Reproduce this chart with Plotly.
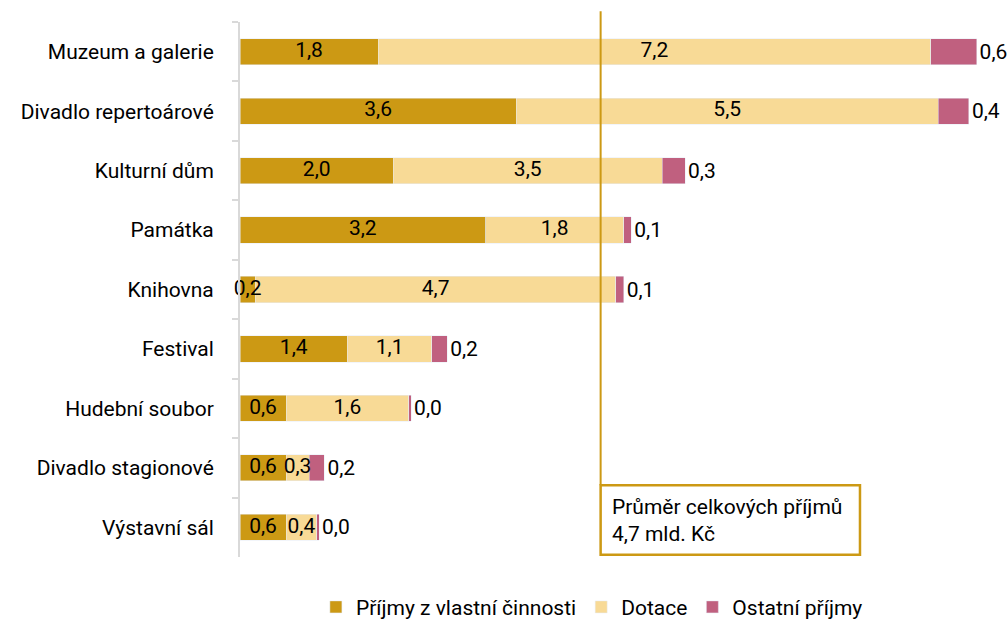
import plotly.graph_objects as go

# Průměrné příjmy kulturních organizací podle typu (mld. Kč)
kategorie = ['Muzeum a galerie', 'Divadlo repertoárové', 'Kulturní dům', 'Památka',
             'Knihovna', 'Festival', 'Hudební soubor', 'Divadlo stagionové', 'Výstavní sál']
vlastni = [1.8, 3.6, 2.0, 3.2, 0.2, 1.4, 0.6, 0.6, 0.6]
dotace = [7.2, 5.5, 3.5, 1.8, 4.7, 1.1, 1.6, 0.3, 0.4]
ostatni = [0.6, 0.4, 0.3, 0.1, 0.1, 0.2, 0.03, 0.2, 0.03]
prumer = 4.7

FONT = "Roboto, sans-serif"
SIZE = 21

fig = go.Figure()
fig.add_trace(go.Bar(name='Příjmy z vlastní činnosti', y=kategorie, x=vlastni, orientation='h',
                     marker_color='#CC9914'))
fig.add_trace(go.Bar(name='Dotace', y=kategorie, x=dotace, orientation='h',
                     marker_color='#F8DA96'))
fig.add_trace(go.Bar(name='Ostatní příjmy', y=kategorie, x=ostatni, orientation='h',
                     marker_color='#C0607F', texttemplate='%{x:.1f}', textposition='outside',
                     textangle=0, constraintext='none', cliponaxis=False,
                     textfont=dict(color='black', size=SIZE, family=FONT)))

# popisky uvnitř segmentů nahoře nad všemi pruhy
stred_vlastni = [v / 2 for v in vlastni]
stred_dotace = [v + d / 2 for v, d in zip(vlastni, dotace)]
fig.add_trace(go.Scatter(x=stred_vlastni, y=kategorie, mode='text', showlegend=False,
                         text=[f'{v:.1f}'.replace('.', ',') for v in vlastni], cliponaxis=False,
                         textfont=dict(color='black', size=SIZE, family=FONT), hoverinfo='skip'))
fig.add_trace(go.Scatter(x=stred_dotace, y=kategorie, mode='text', showlegend=False,
                         text=[f'{d:.1f}'.replace('.', ',') for d in dotace], cliponaxis=False,
                         textfont=dict(color='black', size=SIZE, family=FONT), hoverinfo='skip'))

# svislá čára průměru a rámeček s popiskem
fig.add_shape(type='line', xref='x', yref='paper', x0=prumer, x1=prumer, y0=0.134, y1=1.02,
              line=dict(color='#CC9914', width=2))
fig.add_shape(type='rect', xref='x', yref='paper', x0=prumer, x1=8.08, y0=0.004, y1=0.134,
              line=dict(color='#CC9914', width=2.5), fillcolor='white')
fig.add_annotation(xref='x', yref='paper', x=prumer + 0.12, y=0.069, xanchor='left', yanchor='middle',
                   text='Průměr celkových příjmů<br>4,7 mld. Kč', showarrow=False, align='left',
                   font=dict(size=SIZE, color='black', family=FONT))

fig.update_layout(
    barmode='stack',
    bargap=0.56,
    width=1008, height=619,
    margin=dict(l=240, r=3, t=22, b=62),
    paper_bgcolor='white', plot_bgcolor='white',
    separators=', ',
    font=dict(family=FONT, size=SIZE, color='black'),
    xaxis=dict(range=[0, 9.97], visible=False, automargin=False),
    yaxis=dict(autorange='reversed', showline=True, linecolor='#D9D9D9', linewidth=2,
               ticks='outside', tickson='boundaries', ticklen=6, tickcolor='#D9D9D9',
               tickwidth=2, ticklabelstandoff=20, showgrid=False, automargin=False,
               tickfont=dict(size=SIZE)),
    legend=dict(orientation='h', xref='paper', x=0.46, xanchor='center',
                yref='container', y=0.019, yanchor='middle',
                font=dict(size=SIZE), traceorder='normal', itemwidth=30),
)

fig.write_html("out.html", config={'displayModeBar': False},
               post_script="document.body.style.margin='0';")
